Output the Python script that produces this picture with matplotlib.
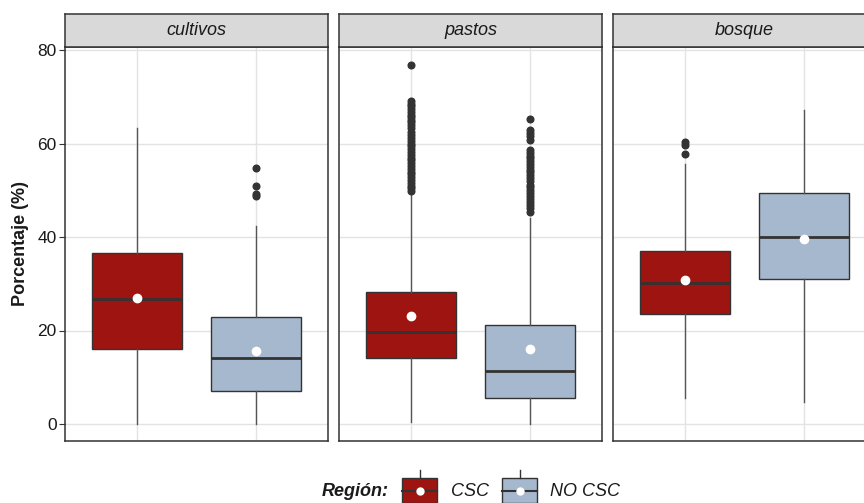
import matplotlib
matplotlib.use("Agg")
import matplotlib.pyplot as plt
from matplotlib.patches import Rectangle
from matplotlib.lines import Line2D

plt.rcParams['font.family'] = ['Liberation Sans', 'DejaVu Sans']

# ---------------- data ----------------
facets = ["cultivos", "pastos", "bosque"]
groups = ["CSC", "NO CSC"]
colors = ["#9E1410", "#A6B8CE"]

# per facet: [CSC, NO CSC]
q1 = [[16.0, 7.0], [14.2, 5.5], [23.6, 31.0]]
med = [[26.8, 14.1], [19.6, 11.3], [30.2, 39.9]]
q3 = [[36.6, 22.9], [28.3, 21.2], [37.1, 49.5]]
whislo = [[0.0, 0.0], [0.5, 0.0], [5.6, 4.6]]
whishi = [[63.4, 42.3], [49.7, 44.0], [55.6, 67.2]]
means = [[27.0, 15.7], [23.1, 16.0], [30.7, 39.6]]
fliers = [
    [[], [54.8, 50.9, 49.3, 48.8]],
    [[76.7, 69.0, 68.5, 68.0, 67.4, 66.8, 66.2, 65.6, 65.1, 64.6, 63.9, 63.3,
      62.4, 61.8, 61.2, 60.6, 60.0, 59.4, 58.8, 58.2, 57.6, 57.0, 56.4, 55.8,
      55.2, 54.6, 54.0, 53.4, 52.8, 52.2, 51.6, 51.0, 50.4, 49.9],
     [65.2, 62.8, 62.2, 61.6, 60.8, 58.6, 58.0, 57.4, 56.8, 56.2, 55.6, 55.0,
      54.4, 53.8, 53.2, 52.6, 52.0, 51.2, 50.6, 50.0, 49.4, 48.8, 48.2, 47.5,
      46.8, 46.1, 45.4]],
    [[60.4, 59.7, 57.7], []],
]
yticks = [0, 20, 40, 60, 80]
ylabel = "Porcentaje (%)"
legend_title = "Región:"

# ---------------- layout ----------------
W, H = 864, 503
fig = plt.figure(figsize=(W / 100, H / 100), dpi=100)

panel_w = 263
panel_lefts = [65, 339, 613]
panel_top, panel_bot = 47, 441
strip_top = 14

# y mapping: 0 -> 424 px, 80 -> 50 px
ppu = (424 - 50) / 80.0
ymax = 80 + (50 - panel_top) / ppu
ymin = -(panel_bot - 424) / ppu

edge = "#333333"
txtc = "#1a1a1a"
for i, f in enumerate(facets):
    l = panel_lefts[i]
    ax = fig.add_axes([l / W, (H - panel_bot) / H, panel_w / W, (panel_bot - panel_top) / H])
    stats = []
    for g in range(2):
        stats.append(dict(med=med[i][g], q1=q1[i][g], q3=q3[i][g],
                          whislo=whislo[i][g], whishi=whishi[i][g],
                          mean=means[i][g], fliers=fliers[i][g], label=groups[g]))
    bp = ax.bxp(stats, positions=[1, 2], widths=0.75, patch_artist=True,
                showmeans=True, showcaps=False,
                boxprops=dict(edgecolor=edge, linewidth=1.0),
                medianprops=dict(color=edge, linewidth=2.0),
                whiskerprops=dict(color="#555555", linewidth=1.0),
                flierprops=dict(marker='o', markerfacecolor=edge, markeredgecolor=edge,
                                markersize=4.8, linestyle='none'),
                meanprops=dict(marker='o', markerfacecolor='white', markeredgecolor='white',
                               markersize=6),
                zorder=3)
    for patch, c in zip(bp['boxes'], colors):
        patch.set_facecolor(c)
    ax.set_xlim(0.4, 2.6)
    ax.set_ylim(ymin, ymax)
    ax.set_xticks([1, 2])
    ax.set_xticklabels([])
    ax.tick_params(axis='x', length=0)
    ax.set_yticks(yticks)
    ax.grid(True, color="#E3E3E3", linewidth=1.0, zorder=0)
    ax.set_axisbelow(True)
    for s in ax.spines.values():
        s.set_color(edge)
        s.set_linewidth(1.1)
    if i == 0:
        ax.tick_params(axis='y', length=4, color=edge, labelsize=12.5, labelcolor=txtc, pad=2)
        ax.set_ylabel(ylabel, fontsize=13, fontweight='bold', labelpad=6, color=txtc)
    else:
        ax.tick_params(axis='y', length=0, labelleft=False)
    # strip
    sax = fig.add_axes([l / W, (H - panel_top) / H, panel_w / W, (panel_top - strip_top) / H])
    sax.set_facecolor("#D9D9D9")
    sax.set_xticks([]); sax.set_yticks([])
    for s in sax.spines.values():
        s.set_color(edge)
        s.set_linewidth(1.1)
    sax.text(0.5, 0.5, f, transform=sax.transAxes, ha='center', va='center',
             fontsize=13, fontstyle='italic', color=txtc)

# ---------------- legend ----------------
def fx(x):
    return x / W

def fy(y):
    return (H - y) / H

fig.text(fx(389), fy(492), legend_title, ha='right', va='center', fontsize=13,
         fontweight='bold', fontstyle='italic', color=txtc)
key_specs = [(402, 437, groups[0], colors[0], 451), (502, 537, groups[1], colors[1], 550)]
for x0, x1, lab, c, tx in key_specs:
    xc = (x0 + x1) / 2
    fig.add_artist(Line2D([fx(xc), fx(xc)], [fy(470), fy(478)], color=edge, lw=1.0))
    fig.add_artist(Rectangle((fx(x0), fy(503)), fx(x1) - fx(x0), fy(478) - fy(503),
                             facecolor=c, edgecolor=edge, lw=1.0))
    fig.add_artist(Line2D([fx(x0), fx(x1)], [fy(491), fy(491)], color=edge, lw=1.5))
    fig.add_artist(Line2D([fx(xc)], [fy(491)], marker='o', markersize=5,
                          markerfacecolor='white', markeredgecolor='white'))
    fig.text(fx(tx), fy(492), lab, ha='left', va='center', fontsize=13,
             fontstyle='italic', color=txtc)

fig.savefig("out.png", dpi=100)
